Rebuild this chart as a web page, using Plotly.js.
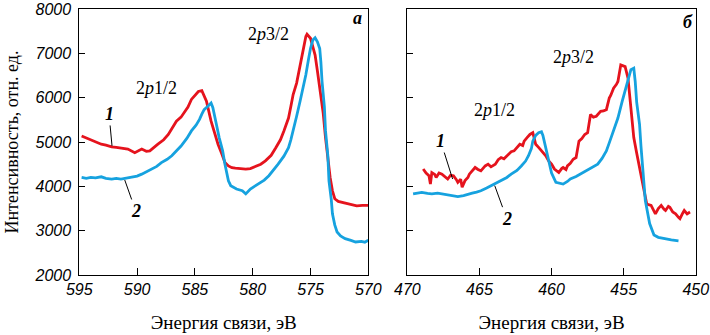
<!DOCTYPE html>
<html><head><meta charset="utf-8">
<script src="https://cdn.plot.ly/plotly-3.0.1.min.js"></script>
<style>html,body{margin:0;padding:0;background:#fff}#plot{width:710px;height:335px}</style>
</head><body><div id="plot"></div>
<script>
const aRedX = [594.8,594.4,594.0,593.6,593.1,592.7,592.2,591.8,591.4,590.8,590.2,589.9,589.6,589.2,588.9,588.2,587.7,587.3,586.9,586.6,586.2,585.9,585.6,585.3,585.0,584.7,584.4,584.2,584.0,583.6,583.3,583.0,582.7,582.4,582.1,581.8,581.5,580.6,580.2,579.8,579.3,578.9,578.4,578.0,577.6,577.3,576.9,576.7,576.5,576.2,576.0,575.8,575.6,575.4,575.3,575.1,575.0,574.8,574.6,574.4,574.2,573.9,573.7,573.5,573.3,573.1,572.9,572.6,572.3,571.8,571.4,571.0,570.5,570.0];
const aRedY = [5135,5090,5060,5010,4950,4930,4890,4880,4860,4840,4760,4810,4840,4790,4800,4950,5050,5170,5330,5470,5560,5690,5790,5960,6060,6140,6160,6050,5920,5470,5200,4950,4750,4540,4460,4420,4410,4390,4400,4440,4500,4575,4700,4870,5050,5250,5540,5800,6070,6330,6590,6900,7190,7380,7430,7380,7340,7150,6960,6600,6220,5650,5100,4600,4200,3900,3720,3660,3640,3600,3590,3560,3570,3570];
const aBlueX = [594.8,594.4,594.0,593.6,593.1,592.7,592.2,591.8,591.4,591.0,590.5,590.0,589.6,589.2,588.8,588.3,587.9,587.4,587.0,586.6,586.2,585.7,585.3,584.9,584.6,584.4,584.2,583.9,583.6,583.45,583.3,583.1,582.9,582.6,582.4,582.1,581.9,581.6,581.4,580.9,580.6,580.2,579.9,579.5,579.0,578.6,578.2,577.8,577.3,576.9,576.7,576.5,576.2,575.9,575.6,575.4,575.2,575.0,574.8,574.6,574.4,574.2,574.1,574.0,573.8,573.7,573.5,573.4,573.2,573.1,572.9,572.7,572.4,572.0,571.5,571.1,570.6,570.3,570.0];
const aBlueY = [4200,4180,4200,4190,4215,4180,4165,4180,4165,4180,4200,4230,4275,4330,4390,4450,4535,4610,4690,4790,4910,5080,5250,5380,5510,5630,5730,5800,5880,5780,5620,5350,5100,4800,4500,4125,4015,3970,3940,3900,3830,3940,3990,4050,4140,4240,4360,4500,4680,4870,5050,5250,5580,5920,6250,6515,6820,7110,7300,7350,7260,7110,6800,6370,5800,5250,4700,4125,3700,3380,3130,2970,2880,2820,2780,2745,2760,2740,2785];
const bRedX = [468.9,468.7,468.5,468.4,468.3,468.1,468.0,467.8,467.6,467.4,467.2,467.0,466.8,466.6,466.5,466.3,466.2,466.0,465.8,465.7,465.5,465.3,465.1,464.9,464.6,464.4,464.2,463.9,463.7,463.5,463.3,463.0,462.8,462.6,462.4,462.2,462.0,461.9,461.7,461.5,461.3,461.2,461.1,460.9,460.7,460.5,460.4,460.2,460.0,459.8,459.5,459.3,459.2,459.0,458.9,458.7,458.5,458.3,458.1,457.9,457.7,457.5,457.3,457.1,456.9,456.6,456.4,456.2,456.0,455.9,455.7,455.5,455.4,455.2,455.0,454.9,454.7,454.5,454.3,454.1,453.9,453.6,453.4,453.1,452.9,452.8,452.6,452.4,452.2,452.1,451.9,451.8,451.6,451.4,451.2,451.1,450.9,450.8,450.6,450.4];
const bRedY = [4390,4300,4240,4050,4310,4270,4200,4300,4275,4220,4165,4250,4240,4150,4090,4160,3980,4130,4200,4275,4350,4425,4380,4350,4460,4500,4440,4500,4600,4650,4620,4725,4780,4800,4870,4950,4920,5020,5100,5170,5210,5100,4950,4880,4800,4720,4690,4575,4500,4390,4310,4400,4425,4380,4460,4520,4610,4650,5020,5080,5170,5210,5620,5560,5580,5690,5700,5730,5990,6050,6215,6300,6365,6740,6720,6700,6440,5845,5100,4750,4425,3980,3600,3570,3450,3380,3500,3570,3480,3455,3550,3530,3420,3380,3300,3270,3400,3455,3380,3420];
const bBlueX = [469.6,469.3,469.0,468.6,468.3,467.9,467.5,467.2,466.8,466.5,466.1,465.8,465.5,465.2,464.9,464.5,464.2,463.8,463.5,463.1,462.8,462.4,462.1,461.8,461.6,461.4,461.3,461.1,460.9,460.7,460.6,460.4,460.2,460.0,459.7,459.4,459.2,458.9,458.7,458.3,458.0,457.7,457.4,457.1,456.8,456.5,456.2,456.0,455.8,455.6,455.4,455.1,454.9,454.7,454.5,454.3,454.2,454.1,453.9,453.8,453.7,453.5,453.2,452.9,452.6,452.2,451.7,451.2];
const bBlueY = [3830,3850,3865,3840,3830,3845,3820,3815,3790,3770,3790,3810,3845,3870,3900,3960,4015,4070,4125,4200,4275,4360,4460,4570,4690,4850,5020,5150,5210,5230,5150,4870,4600,4300,4090,4060,4050,4110,4165,4220,4275,4330,4390,4440,4500,4630,4800,4980,5170,5360,5540,5920,6150,6365,6630,6665,6365,5900,5400,4900,4425,3680,3160,2900,2850,2820,2790,2770];
const aTicks = [595,590,585,580,575,570];
const bTicks = [470,465,460,455,450];
const yTicks = [2000,3000,4000,5000,6000,7000,8000];
const xTitle = 'Энергия связи, эВ';
const yTitle = 'Интенсивность, отн. ед.';

const RED = '#e5131d', BLUE = '#16a2df';
const line = c => ({color: c, width: 2.8});
const traces = [
  {x: aRedX, y: aRedY, xaxis:'x', yaxis:'y', mode:'lines', line: line(RED)},
  {x: aBlueX, y: aBlueY, xaxis:'x', yaxis:'y', mode:'lines', line: line(BLUE)},
  {x: bRedX, y: bRedY, xaxis:'x2', yaxis:'y2', mode:'lines', line: line(RED)},
  {x: bBlueX, y: bBlueY, xaxis:'x2', yaxis:'y2', mode:'lines', line: line(BLUE)}
];
const it = v => '<i>' + v + '</i>';
const tickFont = {family:'Liberation Sans, Arial', size:16, color:'#000', style:'italic'};
const serif = 'Liberation Serif, Times New Roman';
const xTitleFont = {family: serif, size:19, color:'#000'};
const yTitleFont = {family: serif, size:18, color:'#000'};
const base = {showgrid:false, zeroline:false, showline:true, linecolor:'#000', linewidth:1, mirror:true,
  ticks:'inside', ticklen:7, tickcolor:'#000', tickfont:tickFont, tickmode:'array', fixedrange:true};
const layout = {
  width:710, height:335, margin:{l:0,r:0,t:9,b:60}, showlegend:false,
  paper_bgcolor:'#fff', plot_bgcolor:'#fff',
  xaxis: Object.assign({}, base, {domain:[0.1117,0.5187], range:[595,570], tickvals:aTicks, ticktext:aTicks.map(it),
    title:{text:xTitle, font:xTitleFont, standoff:18}, anchor:'y'}),
  xaxis2: Object.assign({}, base, {domain:[0.5737,0.9800], range:[470,450], tickvals:bTicks, ticktext:bTicks.map(it),
    title:{text:xTitle, font:xTitleFont, standoff:18}, anchor:'y2'}),
  yaxis: Object.assign({}, base, {domain:[0,1], range:[2000,8000], tickvals:yTicks, ticktext:yTicks.map(it), ticklen:6,
    ticklabelstandoff:4, title:{text:yTitle, font:yTitleFont, standoff:11}, anchor:'x'}),
  yaxis2: Object.assign({}, base, {domain:[0,1], range:[2000,8000], tickvals:yTicks, ticklen:6, showticklabels:false, anchor:'x2'}),
  annotations: []
};
const ann = (xref, yref, x, y, text, opts) => Object.assign({xref, yref, x, y, text, showarrow:false,
  xanchor:'center', yanchor:'middle', font:{family:serif, size:18, color:'#000'}}, opts || {});
const labFont = {family:serif, size:18, color:'#000'};
const lead = (xref, yref, x, y, ax, ay, text) => ({xref, yref, x, y, ax, ay, text, showarrow:true, arrowhead:0,
  arrowwidth:1, arrowcolor:'#000', standoff:0, startstandoff:0, font:labFont});
layout.annotations.push(
  ann('x','y',588.3,6216,'2<i>p</i>1/2'),
  ann('x','y',578.65,7447,'2<i>p</i>3/2'),
  ann('x2','y2',463.96,5732,'2<i>p</i>1/2'),
  ann('x2','y2',458.5,6926,'2<i>p</i>3/2'),
  ann('paper','paper',0.503,0.966,'<b><i>а</i></b>', {font:labFont}),
  ann('paper','paper',0.969,0.951,'<b><i>б</i></b>', {font:labFont}),
  lead('x','y',592.17,4911,-3,-32,'<b><i>1</i></b>'),
  lead('x','y',591.07,4143,11,31,'<b><i>2</i></b>'),
  lead('x2','y2',466.86,4165,-12,-38,'<b><i>1</i></b>'),
  lead('x2','y2',463.94,4015,12,33,'<b><i>2</i></b>')
);
Plotly.newPlot('plot', traces, layout, {staticPlot:true, displayModeBar:false});
</script></body></html>
